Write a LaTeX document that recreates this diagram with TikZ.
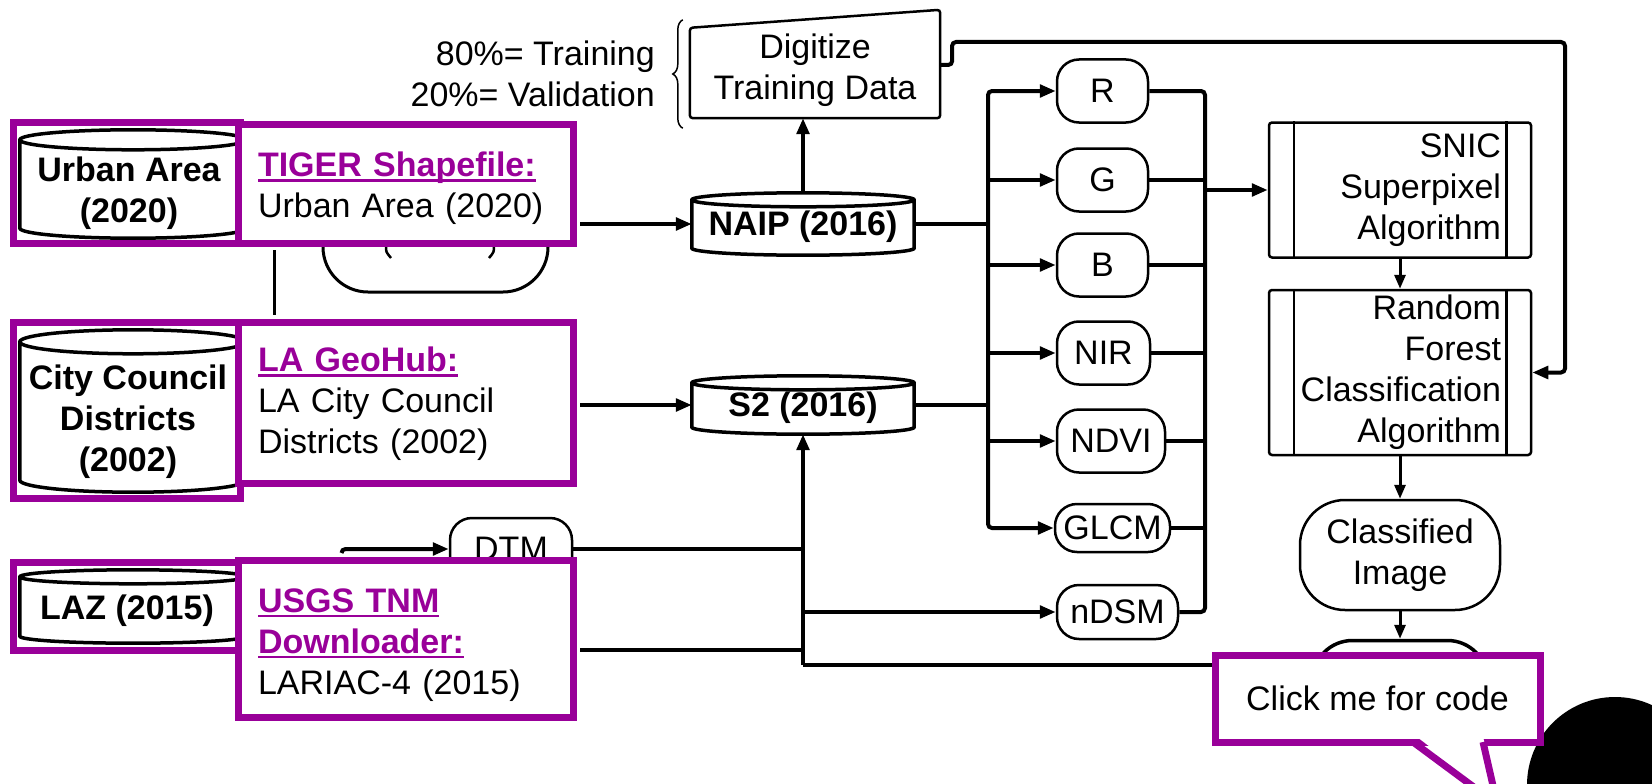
\documentclass[tikz,border=0pt]{standalone}
\usepackage{fontspec}
\setmainfont{Liberation Sans}
\usetikzlibrary{arrows.meta,calc,decorations.pathreplacing,shadows}
\definecolor{pp}{RGB}{153,0,153}
\newcommand\myul[1]{\setbox0\hbox{#1}\rlap{\rule[-5pt]{\wd0}{2.8pt}}\box0}
\newcommand\cyl[2]{\draw[line width=3.5pt] let \p1=(#1.north west), \p2=(#1.south east), \n1={(\x2-\x1)/2} in
 (\x1,\y1-#2) -- (\x1,\y2+#2) arc[start angle=180, end angle=360, x radius=\n1, y radius=#2]
 -- (\x2,\y1-#2) arc[start angle=0, end angle=180, x radius=\n1, y radius=#2] -- cycle
 (\x1,\y1-#2) arc[start angle=180, end angle=360, x radius=\n1, y radius=#2];}
\begin{document}
\begin{tikzpicture}[x=1pt,y=-1pt,
 font=\fontsize{34}{41}\selectfont,
 conn/.style={line width=4pt, rounded corners=4pt},
 arr/.style={conn, -{Triangle[length=16pt,width=12.5pt]}},
 sarr/.style={line width=3pt, -{Triangle[length=14pt,width=11pt]}},
 band/.style={draw, line width=2.5pt, rounded corners=22pt, minimum height=63pt, inner sep=0pt, fill=white},
 pframe/.style={draw=pp, line width=7pt, fill=white, inner sep=0pt, drop shadow={shadow xshift=3pt, shadow yshift=-3pt, opacity=.3}},
 cylgeo/.style={inner sep=0pt},
 cyltext/.style={font=\fontsize{34}{41}\selectfont\bfseries, align=center, inner sep=0pt},
 infotext/.style={inner sep=0pt, text width=295pt, align=left},
 proc/.style={draw, line width=2.5pt, rounded corners=3pt, minimum width=262pt, inner sep=0pt, text width=202pt, align=right},
]
\clip (0,0) rectangle (1652,784);
\useasboundingbox (0,0) rectangle (1652,784);

% black blob bottom right
\fill[black] (1615,785) circle[radius=88pt];

% partly hidden shape behind TIGER box
\draw[line width=3pt, rounded corners=45pt] (323,180) -- (323,292) -- (548,292) -- (548,180);
\draw[line width=2.5pt] (386,246) .. controls (386,252) .. (391,258);
\draw[line width=2.5pt] (494,246) .. controls (494,252) .. (489,258);

% digitize
\node[inner sep=0pt, minimum width=250pt, minimum height=96pt, align=center] (dig) at (815,70) {Digitize\\Training Data};
\draw[line width=2.5pt, rounded corners=3pt] (dig.south west) -- ($(dig.north west)+(0,6)$) -- ($(dig.north east)+(0,-12)$) -- (dig.south east) -- cycle;
\node[anchor=east, align=right, inner sep=0pt] (split) at (655,74) {80\%= Training\\20\%= Validation};
\draw[decorate, decoration={brace, amplitude=10pt}, line width=1.5pt] ($(dig.south west)+(-7,10)$) -- ($(dig.north west)+(-7,-2)$);

% data cylinders
\node[cylgeo, minimum width=222pt, minimum height=62pt] (naip) at (803,224) {};
\cyl{naip}{7pt}
\node[cyltext] (naipT) at ($(naip)+(0,3)$) {NAIP (2016)};
\node[cylgeo, minimum width=222pt, minimum height=58pt] (s2) at (803,405) {};
\cyl{s2}{7pt}
\node[cyltext] (s2T) at ($(s2)+(0,3)$) {S2 (2016)};

% bands
\node[band, minimum width=91pt] (r) at (1102.5,91) {R};
\node[band, minimum width=91pt] (g) at (1102.5,180) {G};
\node[band, minimum width=91pt] (b) at (1102.5,265) {B};
\node[band, minimum width=93pt] (nir) at (1103.5,353) {NIR};
\node[band, minimum width=108pt] (ndvi) at (1111,441) {NDVI};
\node[band, minimum width=115pt, minimum height=48pt] (glcm) at (1112.5,528) {GLCM};
\node[band, minimum width=121pt, minimum height=54pt] (ndsm) at (1117.5,612) {nDSM};

% processes
\node[proc, minimum height=135pt] (snic) at (1400,190) {SNIC\\Superpixel\\Algorithm};
\draw[line width=2.5pt] ($(snic.north west)+(26,0)$) -- ($(snic.south west)+(26,0)$) ($(snic.north east)+(-26,0)$) -- ($(snic.south east)+(-26,0)$);
\node[proc, minimum height=165pt] (rf) at (1400,372.5) {Random\\Forest\\Classification\\Algorithm};
\draw[line width=2.5pt] ($(rf.north west)+(26,0)$) -- ($(rf.south west)+(26,0)$) ($(rf.north east)+(-26,0)$) -- ($(rf.south east)+(-26,0)$);
\node[draw, line width=2.5pt, rounded corners=45pt, minimum width=200pt, minimum height=110pt, align=center, inner sep=0pt] (cls) at (1400,555) {Classified\\Image};
\node[draw, line width=3.5pt, rounded corners=40pt, minimum width=175pt, minimum height=95pt] (fin) at (1400,688) {};
\node[band, minimum width=122pt, minimum height=62pt] (dtm) at (511,549) {DTM};

% source cylinders in purple frames
\node[pframe, minimum width=227pt, minimum height=121pt] (urbanF) at (126.5,182.5) {};
\node[cylgeo, minimum width=226pt, minimum height=108pt] (urban) at (133,184) {};
\cyl{urban}{10pt}
\node[cyltext] (urbanT) at (129,193) {Urban Area\\(2020)};
\node[pframe, minimum width=227pt, minimum height=176pt] (councilF) at (126.5,410) {};
\node[cylgeo, minimum width=226pt, minimum height=162pt] (council) at (133,411) {};
\cyl{council}{12pt}
\node[cyltext] (councilT) at (128,422) {City Council\\Districts\\(2002)};
\node[pframe, minimum width=227pt, minimum height=88pt] (lazF) at (126.5,606) {};
\node[cylgeo, minimum width=226pt, minimum height=73pt] (laz) at (133,606.5) {};
\cyl{laz}{7pt}
\node[cyltext] (lazT) at (127,611) {LAZ (2015)};

% info boxes
\node[pframe, minimum width=335pt, minimum height=119pt] (tiger) at (405.5,183.5) {};
\node[infotext] (tigerT) at (405.5,188.5) {\textcolor{pp}{\bfseries\myul{TIGER Shapefile:}}\\Urban Area (2020)};
\node[pframe, minimum width=335pt, minimum height=161pt] (geohub) at (405.5,402.5) {};
\node[infotext] (geohubT) at (405.5,404) {\textcolor{pp}{\bfseries\myul{LA GeoHub:}}\\LA City Council\\Districts (2002)};
\node[pframe, minimum width=335pt, minimum height=157pt] (usgs) at (405.5,638.5) {};
\node[infotext] (usgsT) at (405.5,645) {\textcolor{pp}{\bfseries\myul{USGS TNM}}\\\textcolor{pp}{\bfseries\myul{Downloader:}}\\LARIAC-4 (2015)};

% connectors
\draw[arr, shorten <=3.5pt] (tiger.east |- naip.west) -- (naip.west);
\draw[arr, shorten <=3.5pt] (geohub.east |- s2.west) -- (s2.west);
\draw[line width=3pt, shorten <=3.5pt, shorten >=3.5pt] ($(tiger.south west)+(40,0)$) -- ($(geohub.north west)+(40,0)$);
\draw[arr] (naip.north) -- (naip.north |- dig.south);

\coordinate (spL) at (988,0);
\coordinate (spR) at (1205,0);
\draw[conn] (naip.east) -- (naip.east -| spL);
\draw[conn] (s2.east) -- (s2.east -| spL);
\draw[arr] (spL |- b.west) -- (spL |- r.west) -- (r.west);
\draw[arr] (spL |- g.west) -- (g.west);
\draw[arr] (spL |- b.west) -- (b.west);
\draw[arr] (spL |- nir.west) -- (nir.west);
\draw[arr] (spL |- ndvi.west) -- (ndvi.west);
\draw[arr] (spL |- b.west) -- (spL |- glcm.west) -- (glcm.west);

\draw[conn] (r.east) -- (r.east -| spR) -- (ndsm.east -| spR) -- (ndsm.east);
\draw[conn] (g.east) -- (g.east -| spR);
\draw[conn] (b.east) -- (b.east -| spR);
\draw[conn] (nir.east) -- (nir.east -| spR);
\draw[conn] (ndvi.east) -- (ndvi.east -| spR);
\draw[conn] (glcm.east) -- (glcm.east -| spR);
\draw[arr] (spR |- snic.west) -- (snic.west);

\coordinate (lp1) at (952,42);
\coordinate (lp2) at (1565,42);
\draw[arr] ($(dig.east)+(0,-5)$) -- ($(dig.east)+(12,-5)$) -- (lp1) -- (lp2) -- (lp2 |- rf.east) -- (rf.east);

\draw[sarr] (snic.south) -- (rf.north);
\draw[sarr] (rf.south) -- (cls.north);
\draw[sarr] (cls.south) -- (fin.north);

\coordinate (vx) at (803,665);
\draw[arr] (vx) -- (s2.south);
\draw[conn] (dtm.east) -- (dtm.east -| vx);
\draw[conn, shorten <=3.5pt] ($(usgs.east)+(0,11.5)$) -- ($(usgs.east -| vx)+(0,11.5)$);
\draw[arr] (vx |- ndsm.west) -- (ndsm.west);
\draw[conn] (vx) -- (vx -| fin.west);
\coordinate (dsrc) at ($(usgs.north west)+(107,-3.5)$);
\draw[arr] (dsrc) -- (dsrc |- dtm.west) -- (dtm.west);

% callout
\node[pframe, minimum width=325pt, minimum height=87pt] (click) at (1377.5,698.5) {Click me for code};
\fill[white] (1417,737) -- (1500,800) -- (1483,737) -- cycle;
\draw[pp, line width=7pt] (1413,742) -- (1498,805);
\draw[pp, line width=7pt] (1483,742) -- (1494,790);
\end{tikzpicture}
\end{document}
